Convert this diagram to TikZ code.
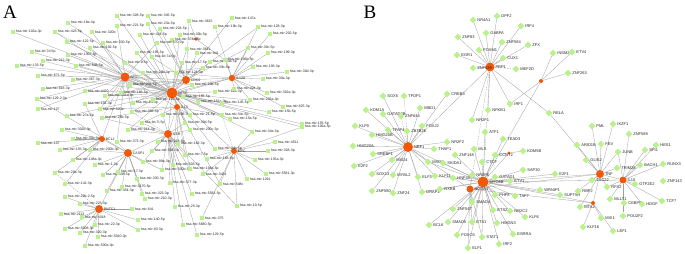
\documentclass[tikz,border=0pt]{standalone}
\usepackage{fontspec}
\setmainfont{Liberation Serif}
\newfontfamily\lsans{Liberation Sans}
\usetikzlibrary{shapes.geometric,backgrounds}
\definecolor{leafg}{RGB}{185,242,140}
\definecolor{hubo}{RGB}{240,88,10}
\definecolor{edgeg}{RGB}{160,160,160}
\pgfdeclarelayer{paper}
\pgfsetlayers{paper,background,main}
\tikzset{
 sq/.style={rectangle,fill=leafg,minimum size=4.2pt,inner sep=0pt},
 dm/.style={diamond,fill=leafg,minimum size=6.8pt,inner sep=0pt},
 hub/.style={circle,fill=hubo,inner sep=0pt},
 lblA/.style={font=\lsans\fontsize{3.5}{4}\selectfont,text=black!85,inner sep=0.5pt},
 lblB/.style={font=\lsans\fontsize{4}{4.5}\selectfont,text=black!85,inner sep=0.6pt},
 ed/.style={draw=edgeg,line width=0.3pt},
 edd/.style={draw=edgeg,line width=0.3pt,dash pattern=on 1.5pt off 1pt},
 ttl/.style={font=\fontsize{19}{20}\selectfont,inner sep=0pt}
}
\begin{document}
\begin{tikzpicture}[x=1pt,y=-1pt]
\useasboundingbox (0,0) rectangle (685,254);
\begin{pgfonlayer}{paper}
\fill[white] (0,0) rectangle (685,254);
\end{pgfonlayer}
\node[ttl] (tA) at (10,12) {A};
\node[ttl] (tB) at (370,12) {B};
% ---------- Panel A hubs
\node[hub,minimum size=11pt,label={[lblA]right:NT5E}] (P1) at (172,93) {};
\node[hub,minimum size=9pt,label={[lblA]right:SP1}] (P2) at (125,77) {};
\node[hub,minimum size=8pt,label={[lblA]right:CDK6}] (P3) at (186,80) {};
\node[hub,minimum size=6pt,label={[lblA]right:IL13}] (P4) at (177,107) {};
\node[hub,minimum size=3.6pt] (P5) at (196,39) {};
\node[hub,minimum size=6.5pt,label={[lblA]right:IL12A}] (P6) at (232,78) {};
\node[hub,minimum size=8pt,label={[lblA]right:IL1B}] (P7) at (168,134) {};
\node[hub,minimum size=8pt,label={[lblA]right:CASP1}] (P8) at (128,153) {};
\node[hub,minimum size=6pt,label={[lblA]right:BCL2}] (P9) at (102,139) {};
\node[hub,minimum size=6pt,label={[lblA]right:MYC}] (P10) at (234,151) {};
\node[hub,minimum size=8pt,label={[lblA]right:PNTC1}] (P11) at (99,209) {};
% ---------- Panel A leaves
\foreach \n/\x/\y/\t in {
1/68/23/hsa-mir-18a-3p, 2/13/32/hsa-mir-103a-3p, 3/55/32/hsa-mir-423-5p, 4/92/32/hsa-mir-320b,
5/67/42/hsa-mir-122-5p, 6/103/43/hsa-mir-330-5p, 7/90/48/hsa-mir-192-5p, 8/32/52/hsa-let-7d-5p,
9/68/55/hsa-mir-1307-5p, 10/43/61/hsa-mir-212-3p, 11/17/66/hsa-mir-133-5p, 12/76/66/hsa-mir-548-5p,
13/38/76/hsa-mir-671-5p, 14/73/80/hsa-mir-367-3p, 15/43/89/hsa-mir-616-3p, 16/85/91/hsa-mir-4420,
17/37/99/hsa-mir-129-2-3p, 18/105/96/hsa-mir-301a-3p, 19/38/109/hsa-mir-127, 20/85/104/hsa-mir-101-3p,
21/100/109/hsa-mir-520a, 22/67/116/hsa-mir-27a-5p, 23/102/118/hsa-mir-26b-5p,
24/117/16/hsa-mir-328-5p, 25/148/16/hsa-mir-345-5p, 26/117/26/hsa-mir-221-5p, 27/148/24/hsa-mir-23a-5p,
28/189/21/hsa-mir-3615, 29/215/27/hsa-mir-19b-3p, 30/160/29/hsa-mir-224-5p, 31/140/35/hsa-mir-424-5p,
32/180/35/hsa-mir-30b-5p, 33/172/40/hsa-mir-374b-5p, 34/157/43/hsa-mir-370-3p, 35/187/49/hsa-mir-3611,
36/197/53/hsa-mir-941, 37/137/53/hsa-mir-195-5p, 38/152/57/hsa-let-7a-5p, 39/125/63/hsa-mir-9-5p,
40/210/62/hsa-mir-33a-5p, 41/182/63/hsa-mir-17-5p, 42/225/60/hsa-mir-106b-5p, 43/176/73/hsa-mir-124-3p,
44/143/73/hsa-mir-29b-3p, 45/203/68/hsa-mir-33b-5p, 46/130/85/hsa-mir-20a-5p, 47/192/85/hsa-mir-20b-5p,
48/121/93/hsa-mir-186-5p, 49/215/92/hsa-mir-92a-3p, 50/183/97/hsa-mir-185-5p, 51/198/102/hsa-mir-151a-3p,
52/133/103/hsa-mir-24-3p, 53/153/100/hsa-mir-101-5p, 54/222/103/hsa-mir-145-5p, 55/132/112/hsa-mir-30e-5p,
56/163/115/hsa-mir-186-3p, 57/190/115/hsa-mir-21-5p, 58/222/115/hsa-mir-34c-5p, 59/142/123/hsa-let-7i-5p,
60/185/123/hsa-mir-30d-5p,
61/232/18/hsa-mir-147a, 62/258/27/hsa-mir-128-3p, 63/270/34/hsa-mir-202-5p, 64/248/48/hsa-mir-30c-5p,
65/268/53/hsa-mir-199-3p, 66/253/67/hsa-mir-193-3p, 67/287/72/hsa-mir-30d-3p, 68/263/79/hsa-mir-30a-3p,
69/234/89/hsa-mir-424-3p, 70/267/93/hsa-mir-302a-3p, 71/250/100/hsa-mir-203a-3p, 72/283/107/hsa-mir-625-3p,
73/269/112/hsa-mir-15b-5p, 74/230/119/hsa-mir-15a-5p, 75/302/124/hsa-mir-155-5p,
76/62/130/hsa-mir-302b-3p, 77/38/143/hsa-mir-107, 78/73/139/hsa-mir-30e-3p, 79/60/150/hsa-mir-155-3p,
80/90/150/hsa-mir-200b-3p, 81/73/160/hsa-mir-148a-3p, 82/95/165/hsa-mir-1-3p, 83/55/173/hsa-mir-29a-3p,
84/103/175/hsa-mir-338-5p, 85/65/184/hsa-mir-142-3p, 86/107/191/hsa-mir-454-3p, 87/65/197/hsa-mir-29b-2-5p,
88/80/204/hsa-mir-223-3p, 89/61/214/hsa-mir-2113, 90/82/217/hsa-mir-4318, 91/95/225/hsa-mir-22-3p,
92/65/229/hsa-mir-5008-3p, 93/80/233/hsa-mir-320-3p, 94/98/237/hsa-mir-5010-3p, 95/85/246/hsa-mir-500a-3p,
96/128/130/hsa-mir-214-3p, 97/190/130/hsa-mir-200c-3p, 98/158/142/hsa-mir-218-5p, 99/178/144/hsa-mir-182-3p,
100/117/142/hsa-mir-373-3p, 101/152/151/hsa-mir-338-3p, 102/215/149/hsa-mir-34b-5p, 103/185/155/hsa-mir-7-5p,
104/207/159/hsa-mir-183-5p, 105/143/162/hsa-mir-99a-3p, 106/173/165/hsa-mir-503-5p, 107/162/170/hsa-mir-500b-5p,
108/190/169/hsa-mir-193a-5p, 109/118/172/hsa-mir-17-3p, 110/203/174/hsa-mir-3431, 111/137/179/hsa-mir-330-3p,
112/170/183/hsa-mir-377-3p, 113/220/184/hsa-mir-548c, 114/122/187/hsa-mir-3170-5p, 115/142/194/hsa-mir-323-3p,
116/192/194/hsa-mir-5581-5p, 117/145/199/hsa-mir-210-3p, 118/175/207/hsa-mir-25-3p, 119/132/209/hsa-mir-641,
120/138/220/hsa-mir-140-5p, 121/202/218/hsa-mir-375, 122/183/225/hsa-mir-5680-5p, 123/138/230/hsa-mir-93-3p,
124/197/235/hsa-mir-129-5p,
125/252/132/hsa-mir-34a-5p, 126/302/127/hsa-mir-106a-5p, 127/275/142/hsa-mir-4511, 128/268/151/hsa-mir-328-3p,
129/255/160/hsa-mir-135a-3p, 130/266/174/hsa-mir-5581-3p, 131/247/179/hsa-mir-1291, 132/237/206/hsa-mir-10-5p}
 \node[sq,label={[lblA]right:\t}] (a\n) at (\x,\y) {};
% ---------- Panel B hubs
\node[hub,minimum size=9pt,label={[lblB]right:PRP1}] (Q1) at (490,67) {};
\node[hub,minimum size=4pt] (Q2) at (541,81) {};
\node[hub,minimum size=10pt,label={[lblB]right:NRF1}] (Q3) at (408,147) {};
\node[hub,minimum size=11pt,label={[lblB]right:MYO6B}] (Q4) at (483,182) {};
\node[hub,minimum size=7pt,label={[lblB]right:NCOA1}] (Q5) at (470,189) {};
\node[hub,minimum size=3.4pt] (Q6) at (509,153) {};
\node[hub,minimum size=8pt,label={[lblB]right:TNF}] (Q7) at (600,174) {};
\node[hub,minimum size=7pt,label={[lblB]right:IL10}] (Q8) at (623,180) {};
\node[hub,minimum size=4pt] (Q9) at (593,203) {};
% ---------- Panel B leaves
\foreach \n/\x/\y/\t in {
1/383/96/SOX5, 2/404/96/TFDP1, 3/366/110/KDM1A, 4/420/108/MBD1, 5/383/114/GATAD2B, 6/401/116/ZNF644,
7/447/94/CREB3, 8/355/126/KLF9, 9/422/126/FOXJ2, 10/458/37/ZNF83, 11/457/55/EGR1, 12/473/20/NR4A1,
13/497/16/DPF2, 14/486/33/GABPA, 15/521/26/IRF4, 16/502/42/ZNF584, 17/479/50/FOXM1, 18/528/45/ZFX,
19/503/58/CUX1, 20/473/68/ZNF629, 21/516/69/MEF2D, 22/553/53/INSM2, 23/572/52/ETV4, 24/568/73/ZNF263,
25/510/104/IRF1, 26/488/110/NFKB1, 27/549/113/RELA, 28/472/120/NR2F1, 29/592/126/PML, 30/613/124/IKZF1,
31/388/130/TFAP4, 32/407/131/ZBTB26, 33/372/135/HMG20B, 34/353/146/HMG20A, 35/447/142/NR2F2, 36/373/154/SREBF1,
37/434/149/THAP1, 38/455/155/ZNF148, 39/354/166/E2F2, 40/392/160/MXD4, 41/428/162/MXD3, 42/443/163/SKIDA1,
43/372/174/SOX13, 44/393/175/MYBL2, 45/418/177/ELF3, 46/435/176/KLF11, 47/453/178/HNF4A, 48/372/191/ZNF580,
49/393/193/ZNF24, 50/422/192/DRAP1, 51/440/189/RXRB, 52/453/209/ZNF547, 53/429/225/BCL6, 54/448/222/SMAD5,
55/457/235/FOXO3, 56/485/132/ATF1, 57/503/139/TEAD3, 58/474/149/MLX, 59/523/151/KDM5B, 60/495/155/CCNT2,
61/482/162/CTCF, 62/472/175/NR2F6, 63/523/170/SAP30, 64/555/174/E2F1, 65/495/177/GATAD1, 66/510/181/ETV1,
67/540/190/WRNIP1, 68/560/195/SUPT5H, 69/515/196/TAF7, 70/495/195/PHF8, 71/472/202/SMAD4, 72/493/210/ETS2,
73/510/211/NR2C2, 74/525/217/KLF6, 76/472/222/ETS1, 77/497/223/HMGN3, 78/513/234/ESRRA, 79/482/237/STAT1,
80/499/244/IRF2, 81/468/248/ELF1, 82/629/134/ZNF589, 83/577/145/ARID1B, 84/601/144/FEV, 85/656/145/HES1,
86/618/152/JUNB, 87/645/150/SPI1, 88/586/160/GLIS2, 89/663/164/RUNX3, 90/617/168/TRIM28, 91/640/165/BACH1,
92/592/180/TSC22, 93/635/184/GTF2E2, 94/663/181/ZNF143, 95/578/191/RBPJ, 96/607/187/RFX2, 97/610/199/MLLT1,
98/624/203/CEBPB, 99/642/204/HDGF, 100/662/201/TCF7, 101/580/207/MTA2, 102/601/218/MXI1, 103/623/216/POU2F2,
104/583/227/KLF16, 105/613/231/LEF1}
 \node[dm,label={[lblB]right:\t}] (b\n) at (\x,\y) {};
% ---------- Edges
\begin{pgfonlayer}{background}
\foreach \l in {1,2,5,8,10,12,14,16,18,20,22,24,27,31,32,35,37,39,40,41,44,49,51,54,56,60,61,71,73,74,75,96,97,102,125,126,58,57,50,53,43,47}
 \draw[ed] (P1) -- (a\l);
\foreach \l in {3,4,6,7,9,11,13,15,17,19,26,34,45,47,50,57,18,21,46,48,52,55,100}
 \draw[ed] (P2) -- (a\l);
\foreach \l in {25,28,30,33,36,38,46,48,52,55,62,64}
 \draw[ed] (P3) -- (a\l);
\foreach \l in {21,23,58,59,99,103,106,108,113}
 \draw[ed] (P4) -- (a\l);
\foreach \l in {28,42}
 \draw[ed] (P5) -- (a\l);
\foreach \l in {29,42,43,53,62,63,64,65,66,67,68,69,70,71,72}
 \draw[ed] (P6) -- (a\l);
\foreach \l in {23,96,97,98,99,101,103,106,108,112,116,118,122,124,132,56,59,60,105,107}
 \draw[ed] (P7) -- (a\l);
\foreach \l in {17,80,82,84,86,100,105,107,109,111,114,115,117}
 \draw[ed] (P8) -- (a\l);
\foreach \l in {20,76,77,78,79,80,81,83,85}
 \draw[ed] (P9) -- (a\l);
\foreach \l in {102,104,110,113,121,125,126,127,128,129,130,131,132}
 \draw[ed] (P10) -- (a\l);
\foreach \l in {87,88,89,90,91,92,93,94,95,119,120,123}
 \draw[ed] (P11) -- (a\l);
\foreach \u/\v in {P1/P2,P1/P3,P1/P4,P1/P6,P1/P7,P2/P9,P7/P8,P8/P9,P8/P11,P10/P1,P4/P7,P3/P6,P2/P3}
 \draw[ed] (\u) -- (\v);
\foreach \u/\v in {P1/a3,P1/a9,P2/a23,P7/a55,P11/a83,P10/a58,P6/a47}
 \draw[edd] (\u) -- (\v);
% B
\foreach \l in {10,11,12,13,14,15,16,17,18,19,20,25,26,27,28}
 \draw[ed] (Q1) -- (b\l);
\draw[edd] (Q1) -- (b21);
\foreach \l in {22,23,24,25}
 \draw[ed] (Q2) -- (b\l);
\foreach \l in {1,3,4,5,7,8,9,31,32,33,34,35,36,37,39,40,41,43,44,45,46,48,49,50}
 \draw[ed] (Q3) -- (b\l);
\foreach \l in {2,6}
 \draw[edd] (Q3) -- (b\l);
\foreach \l in {38,41,42,46,47,50,51,52,53,54,55,56,57,58,60,61,62,63,64,65,66,67,68,69,70,71,72,73,74,76,77,78,79,80,81}
 \draw[ed] (Q4) -- (b\l);
\foreach \l in {71,76,79,81,62}
 \draw[ed] (Q5) -- (b\l);
\foreach \l in {59,60}
 \draw[ed] (Q6) -- (b\l);
\foreach \l in {29,30,83,84,86,88,90,92,95,96,101,27}
 \draw[ed] (Q7) -- (b\l);
\foreach \l in {82,85,86,87,89,91,93,96,97,98,99,100,103}
 \draw[ed] (Q8) -- (b\l);
\foreach \l in {101,102,104,105}
 \draw[ed] (Q9) -- (b\l);
\foreach \u/\v in {Q1/Q3,Q2/Q4,Q3/Q4,Q3/Q5,Q4/Q7,Q4/Q8,Q5/Q7,Q5/Q9,Q4/Q9,Q7/Q8,Q7/Q9,Q6/Q4}
 \draw[ed] (\u) -- (\v);
\foreach \u/\v in {Q1/Q4,Q1/Q5}
 \draw[edd] (\u) -- (\v);
\end{pgfonlayer}
\end{tikzpicture}
\end{document}
